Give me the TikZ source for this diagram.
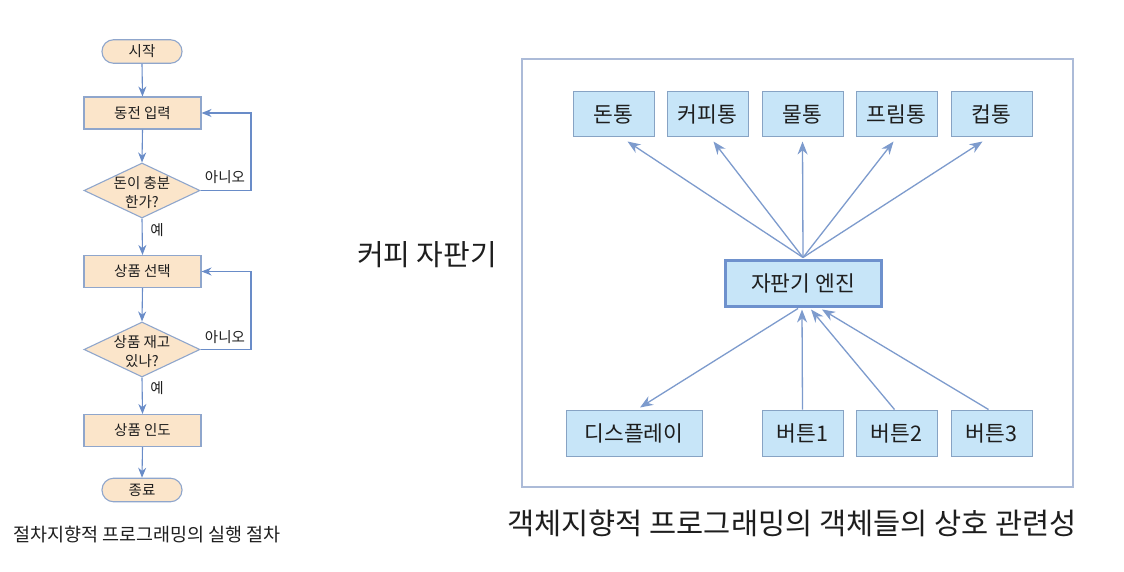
\documentclass[tikz,border=0pt]{standalone}
\usepackage{fontspec}
\setmainfont{Noto Sans CJK KR}
\usetikzlibrary{arrows.meta,shapes.geometric,calc}
\definecolor{peach}{RGB}{251,229,202}
\definecolor{flowline}{RGB}{143,166,204}
\definecolor{flowarrow}{RGB}{105,140,200}
\definecolor{skyfill}{RGB}{199,229,248}
\definecolor{skyline}{RGB}{135,163,196}
\definecolor{engline}{RGB}{110,145,205}
\definecolor{framecol}{RGB}{172,187,216}
\definecolor{objarrow}{RGB}{125,155,205}
\definecolor{txt}{RGB}{30,30,30}
\tikzset{
  x=1pt,y=-1pt,
  every node/.style={text=txt},
  fs/.style={font=\fontsize{14.5}{19}\selectfont},
  procbox/.style={draw=flowline,fill=peach,line width=1.1pt,minimum width=117pt,minimum height=32pt,inner sep=0pt,fs},
  termbox/.style={draw=flowline,fill=peach,line width=1.1pt,rounded corners=11.5pt,minimum width=80pt,minimum height=23.5pt,inner sep=0pt,fs},
  decbox/.style={draw=flowline,fill=peach,line width=1.1pt,diamond,minimum width=116pt,minimum height=55pt,inner sep=0pt},
  farrow/.style={draw=flowarrow,line width=1.1pt,-{Stealth[length=10pt,width=8pt]}},
  objbox/.style={draw=skyline,fill=skyfill,line width=1pt,minimum width=81pt,minimum height=45pt,inner sep=0pt,font=\fontsize{21.5}{25}\selectfont},
  oarrow/.style={draw=objarrow,line width=1.3pt,-{Stealth[length=13pt,width=10pt]}},
}
\begin{document}
\begin{tikzpicture}
\useasboundingbox[fill=white] (0,0) rectangle (1124,572);
% ---------- left flowchart ----------
\node[termbox] (start) at (142,51.5) {시작};
\node[procbox] (coin) at (142.5,113) {동전 입력};
\node[decbox] (d1) at (142,190.5) {};
\node[fs,align=center,inner sep=0pt] (d1t) at (142,193) {돈이 충분\\한가?};
\node[procbox] (sel) at (142.5,271.5) {상품 선택};
\node[decbox] (d2) at (142,349.5) {};
\node[fs,align=center,inner sep=0pt] (d2t) at (142,352) {상품 재고\\있나?};
\node[procbox] (give) at (142.5,430.5) {상품 인도};
\node[termbox] (end) at (142,490) {종료};

\coordinate (l1a) at (251,190.5);
\coordinate (l1b) at (251,113);
\coordinate (l2a) at (251,349.5);
\coordinate (l2b) at (251,271.5);

\draw[farrow] (start.south) -- (coin.north);
\draw[farrow] (coin.south) -- (d1.north);
\draw[farrow] (d1.south) -- (sel.north);
\draw[farrow] (sel.south) -- (d2.north);
\draw[farrow] (d2.south) -- (give.north);
\draw[farrow] (give.south) -- (end.north);
\draw[farrow] (d1.east) -- (l1a) -- (l1b) -- (coin.east);
\draw[farrow] (d2.east) -- (l2a) -- (l2b) -- (sel.east);

\node[fs] (no1) at (225,177) {아니오};
\node[fs] (no2) at (225,337) {아니오};
\node[fs] (yes1) at (157,230) {예};
\node[fs] (yes2) at (157,388) {예};

\node[font=\fontsize{18.5}{22}\selectfont] (cap1) at (147,535) {절차지향적 프로그래밍의 실행 절차};

% ---------- right object diagram ----------
\node[font=\fontsize{29}{33}\selectfont] (title) at (427,255) {커피 자판기};
\draw[draw=framecol,line width=1.2pt] (522,59) rectangle (1073,487);

\node[objbox] (don) at (613.5,114.5) {돈통};
\node[objbox] (cof) at (707.5,114.5) {커피통};
\node[objbox] (wat) at (802.5,114.5) {물통};
\node[objbox] (pri) at (896.5,114.5) {프림통};
\node[objbox] (cup) at (991.5,114.5) {컵통};

\node[objbox,draw=engline,line width=3pt,minimum width=156pt,minimum height=46pt] (eng) at (803,283) {자판기 엔진};

\node[objbox,minimum width=136pt,minimum height=46pt] (disp) at (634,433) {디스플레이};
\node[objbox,minimum height=46pt] (b1) at (802.5,433) {버튼1};
\node[objbox,minimum height=46pt] (b2) at (896.5,433) {버튼2};
\node[objbox,minimum height=46pt] (b3) at (991.5,433) {버튼3};

\coordinate (top) at ($(eng.north)+(0,-1)$);
\draw[oarrow] (top) -- ($(don.south)+(14,4)$);
\draw[oarrow] (top) -- ($(cof.south)+(6,4)$);
\draw[oarrow] (top) -- ($(wat.south)+(0,4)$);
\draw[oarrow] (top) -- ($(pri.south)+(-3,4)$);
\draw[oarrow] (top) -- ($(cup.south)+(-9,4)$);

\draw[oarrow] ($(eng.south)+(-5,1)$) -- ($(disp.north)+(6,-2)$);
\draw[oarrow] (b1.north) -- ($(eng.south)+(-1,2)$);
\draw[oarrow] ($(b2.north)+(-2,0)$) -- ($(eng.south)+(8,2)$);
\draw[oarrow] ($(b3.north)+(-3,0)$) -- ($(eng.south)+(19,2)$);

\node[font=\fontsize{29.5}{33}\selectfont] (cap2) at (792,523) {객체지향적 프로그래밍의 객체들의 상호 관련성};
\end{tikzpicture}
\end{document}
